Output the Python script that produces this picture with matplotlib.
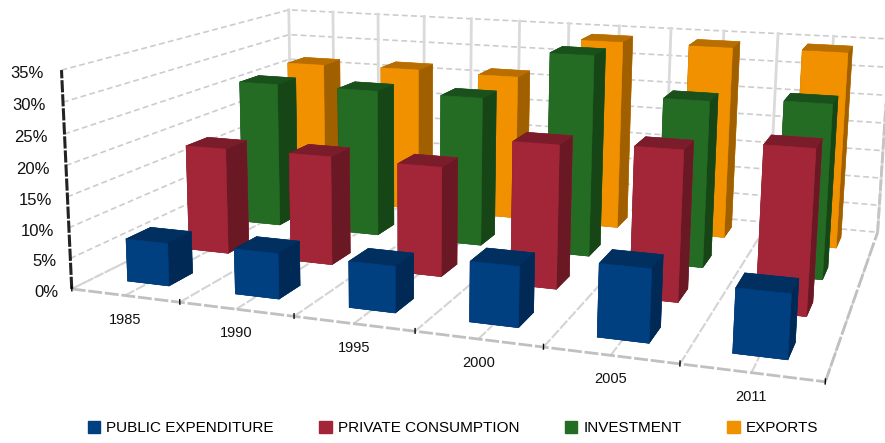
import numpy as np
import matplotlib
matplotlib.use('Agg')
import matplotlib.pyplot as plt
from matplotlib.patches import Patch
from matplotlib.transforms import ScaledTranslation

years = ['1985', '1990', '1995', '2000', '2005', '2011']
series = ['PUBLIC EXPENDITURE', 'PRIVATE CONSUMPTION', 'INVESTMENT', 'EXPORTS']
public_expenditure = [7, 7.3, 7.3, 9.3, 11, 9.5]
private_consumption = [18.2, 18.4, 18.2, 23.3, 24, 25.7]
investment = [26, 26, 26, 34.5, 28, 28.8]
exports = [26.5, 26.7, 26.5, 34, 34, 34.2]
values = [public_expenditure, private_consumption, investment, exports]

# front, top and side shades of each series
face_colors = ['#003f80', '#a32638', '#246b24', '#f29100']
top_colors = ['#002f60', '#7a1c2a', '#19501b', '#b86e00']
side_colors = ['#002a55', '#6a1824', '#164616', '#a06000']
y_ticks = [0, 5, 10, 15, 20, 25, 30, 35]

W, H = 885, 443

# where the corners of the chart box sit in the picture, (x, y, z) -> pixel
anchors = [
    (0, 0, 0, 73, 288), (1, 0, 0, 180, 300), (2, 0, 0, 294, 315),
    (3, 0, 0, 415, 331), (4, 0, 0, 543, 347), (5, 0, 0, 680, 365),
    (6, 0, 0, 826, 384), (0, 4, 0, 290, 183), (6, 4, 0, 878, 230),
    (0, 0, 35, 60, 72), (0, 4, 35, 290, 8), (3, 4, 35, 570, 23),
    (6, 4, 35, 889, 40),
]


def fit_camera():
    rows = []
    for x, y, z, u, v in anchors:
        X = [x / 6, y / 4, z / 35, 1]
        u, v = u / W, v / W
        rows.append(X + [0, 0, 0, 0] + [-u * c for c in X])
        rows.append([0, 0, 0, 0] + X + [-v * c for c in X])
    P = np.linalg.svd(np.array(rows))[2][-1].reshape(3, 4)
    P = P @ np.diag([1 / 6, 1 / 4, 1 / 35, 1])
    P[:2] *= W
    if P[2] @ [3, 2, 15, 1] < 0:
        P = -P
    return P


P = fit_camera()

fig = plt.figure(figsize=(W / 100, H / 100), dpi=100)
ax = fig.add_axes([0, 0, 1, 1], projection='3d', computed_zorder=False)
ax.apply_aspect = lambda position=None: None
ax.set_axis_off()


def get_proj():
    # pixel position -> the 2d coordinates of the axes
    inv = ax.transData.inverted()
    (x0, y0), (x1, y1) = inv.transform([(0, H), (W, 0)])
    su, tu = (x1 - x0) / W, x0
    sv, tv = (y1 - y0) / H, y0
    w_mid = P[2] @ [3, 2, 15, 1]
    # depth stays negative, line clipping drops anything above zero
    return np.array([
        su * P[0] + tu * P[2],
        sv * P[1] + tv * P[2],
        np.array([0, 0, 0, -w_mid]),
        P[2],
    ])


ax.get_proj = get_proj

dash = dict(color='#cccccc', lw=1.2, ls=(0, (3.5, 2)), zorder=1)

for z in y_ticks:
    ax.plot([0, 0, 6], [0, 4, 4], [z, z, z], **dash)

for i in np.arange(0, 6.5, 0.5):
    ax.plot([i, i], [4, 4], [0, 35], color='#dadada', lw=2, zorder=1)
    ax.plot([i, i], [0, 4], [0, 0], color='#d4d4d4', lw=1.5, ls=(0, (5, 1)), zorder=1)

ax.plot([0, 6], [0, 0], [0, 0], color='#c0c0c0', lw=2, ls=(0, (5, 1)), zorder=1)
ax.plot([6, 6], [0, 4], [0, 0], color='#c0c0c0', lw=2, ls=(0, (5, 1)), zorder=1)
ax.plot([6, 6], [4, 4], [0, 35], color='#c4c4c4', lw=2, ls=(0, (4, 1)), zorder=1)
ax.plot([0, 0], [0, 0], [0, 35], color='#222222', lw=2.2, ls=(0, (4, 0.6)), zorder=2)

for i in range(7):
    ax.plot([i, i], [0, 0], [-0.3, 0.4], color='black', lw=1, zorder=2)

# back rows first so nearer bars cover them
order = 3
for j in range(3, -1, -1):
    for i in range(6):
        cols = [top_colors[j], top_colors[j], face_colors[j],
                face_colors[j], side_colors[j], side_colors[j]]
        ax.bar3d(i + 0.31, j + 0.34, 0, 0.39, 0.38, values[j][i],
                 color=cols, edgecolor=cols, linewidth=0.4, shade=False, zorder=order)
        order += 1

# the axes are hidden, their own tick labels would only pile up
ax.set_xticks([])
ax.set_yticks([])
ax.set_zticks([])

for z in y_ticks:
    t = ax.text(0, 0, z, f'{z}%', ha='right', va='center', fontsize=12,
                family='Liberation Sans', color='#111111', zorder=200)
    dx = (-15 + 2 - 5 * z / 35) / 100
    t.set_transform(ax.transData + ScaledTranslation(dx, -0.035, fig.dpi_scale_trans))

for i, year in enumerate(years):
    t = ax.text(i + 0.5, 0, 0, year, ha='center', va='center', fontsize=10.5,
                family='Liberation Sans', color='#111111', zorder=200)
    t.set_transform(ax.transData + ScaledTranslation(0, -0.24, fig.dpi_scale_trans))

handles = [Patch(color=c, label=s) for c, s in zip(face_colors, series)]
fig.legend(handles=handles, ncols=4, loc='center', bbox_to_anchor=(453 / W, 1 - 428 / H),
           frameon=False, handlelength=0.8, handleheight=0.8, handletextpad=0.4,
           columnspacing=3.0, borderpad=0,
           prop={'family': 'Liberation Sans', 'size': 11})

fig.savefig('out.png', dpi=100)
